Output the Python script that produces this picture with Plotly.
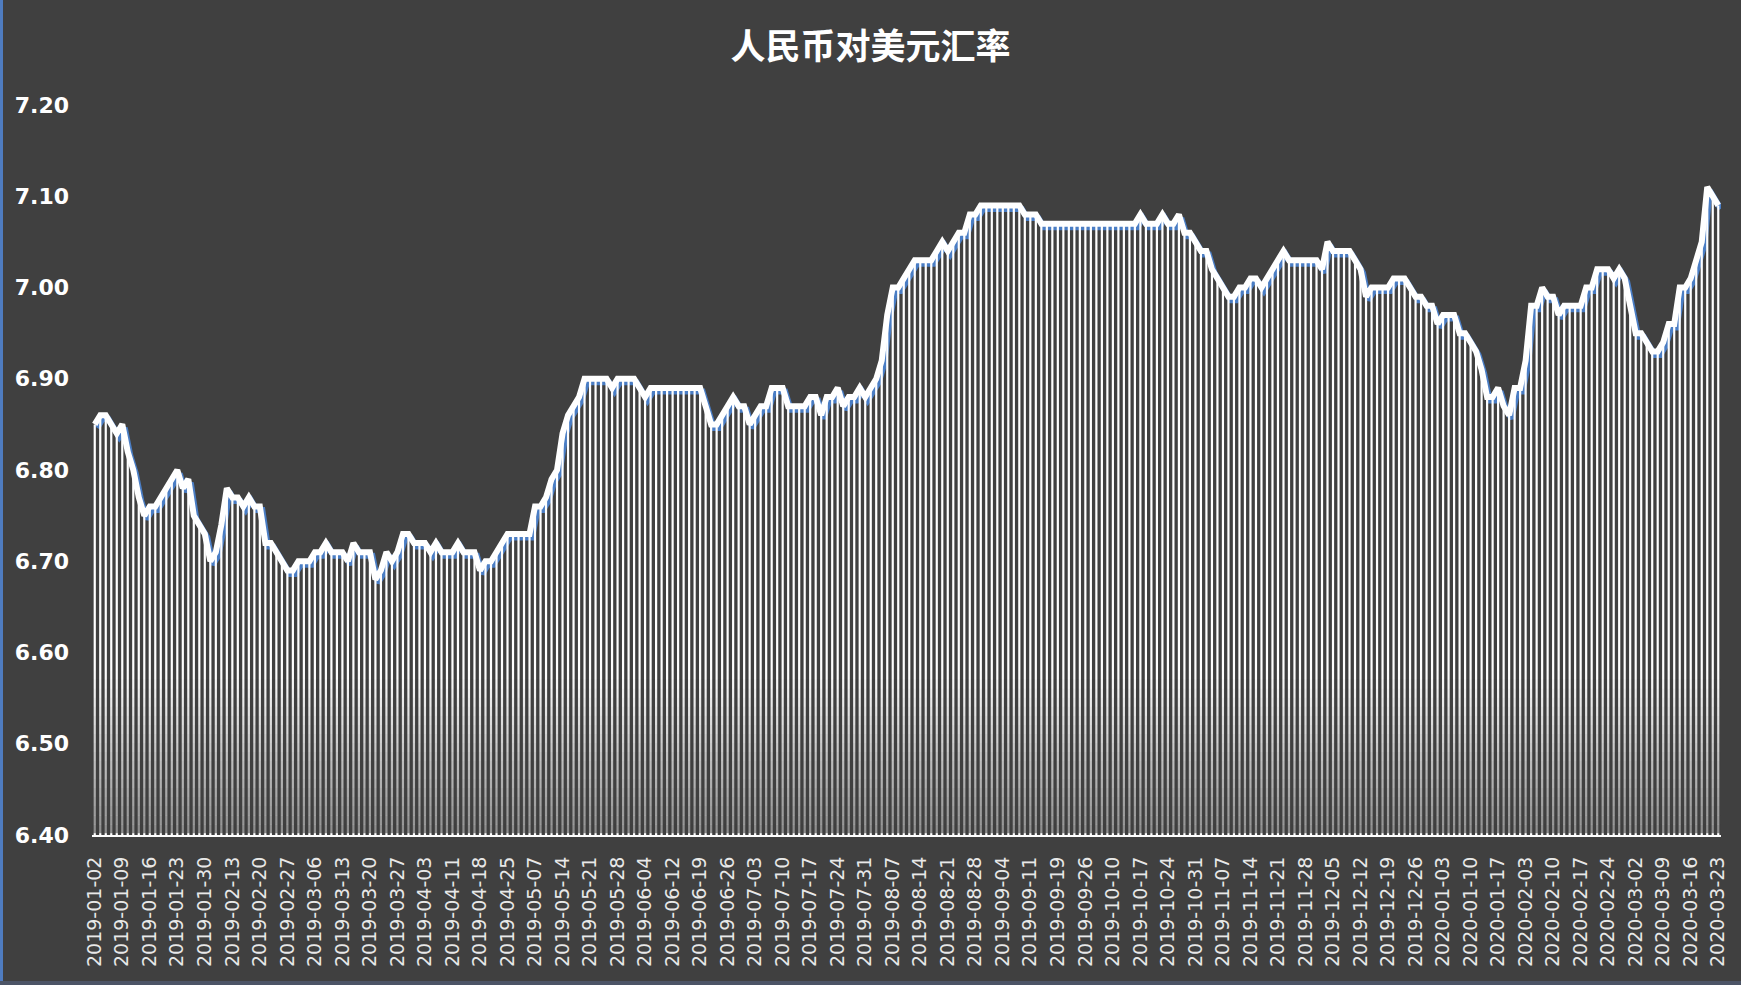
import pandas as pd
import plotly.graph_objects as go

# ---- trading-day calendar (China interbank market, weekday closures) ----
holidays = [
    "2019-01-01", "2019-02-04", "2019-02-05", "2019-02-06", "2019-02-07", "2019-02-08",
    "2019-04-05", "2019-05-01", "2019-05-02", "2019-05-03", "2019-06-07", "2019-09-13",
    "2019-10-01", "2019-10-02", "2019-10-03", "2019-10-04", "2019-10-07",
    "2020-01-01", "2020-01-24", "2020-01-27", "2020-01-28", "2020-01-29", "2020-01-30", "2020-01-31",
]
_days = pd.bdate_range("2019-01-02", "2020-03-23")
dates = [d.strftime("%Y-%m-%d") for d in _days if d.strftime("%Y-%m-%d") not in holidays]

# ---- USD/CNY values ----
rate_2019_jan_feb = [6.85, 6.86, 6.86, 6.85, 6.84, 6.85, 6.82, 6.80, 6.77, 6.75,
                     6.76, 6.76, 6.77, 6.78, 6.79, 6.80, 6.78, 6.79, 6.75, 6.74,
                     6.73, 6.70, 6.71, 6.74, 6.78, 6.77, 6.77, 6.76, 6.77, 6.76,
                     6.76, 6.72, 6.72, 6.71, 6.70, 6.69, 6.69, 6.70, 6.70, 6.70]
rate_2019_mar_apr = [6.71, 6.71, 6.72, 6.71, 6.71, 6.71, 6.70, 6.72, 6.71, 6.71,
                     6.71, 6.68, 6.69, 6.71, 6.70, 6.71, 6.73, 6.73, 6.72, 6.72,
                     6.72, 6.71, 6.72, 6.71, 6.71, 6.71, 6.72, 6.71, 6.71, 6.71,
                     6.69, 6.70, 6.70, 6.71, 6.72, 6.73, 6.73, 6.73, 6.73, 6.73]
rate_2019_may_jun = [6.76, 6.76, 6.77, 6.79, 6.80, 6.84, 6.86, 6.87, 6.88, 6.90,
                     6.90, 6.90, 6.90, 6.90, 6.89, 6.90, 6.90, 6.90, 6.90, 6.89,
                     6.88, 6.89, 6.89, 6.89, 6.89, 6.89, 6.89, 6.89, 6.89, 6.89,
                     6.89, 6.87, 6.85, 6.85, 6.86, 6.87, 6.88, 6.87, 6.87, 6.85]
rate_2019_jul_aug = [6.86, 6.87, 6.87, 6.89, 6.89, 6.89, 6.87, 6.87, 6.87, 6.87,
                     6.88, 6.88, 6.86, 6.88, 6.88, 6.89, 6.87, 6.88, 6.88, 6.89,
                     6.88, 6.89, 6.90, 6.92, 6.97, 7.00, 7.00, 7.01, 7.02, 7.03,
                     7.03, 7.03, 7.03, 7.04, 7.05, 7.04, 7.05, 7.06, 7.06, 7.08]
rate_2019_sep_oct = [7.08, 7.09, 7.09, 7.09, 7.09, 7.09, 7.09, 7.09, 7.09, 7.08,
                     7.08, 7.08, 7.07, 7.07, 7.07, 7.07, 7.07, 7.07, 7.07, 7.07,
                     7.07, 7.07, 7.07, 7.07, 7.07, 7.07, 7.07, 7.07, 7.07, 7.07,
                     7.08, 7.07, 7.07, 7.07, 7.08, 7.07, 7.07, 7.08, 7.06, 7.06]
rate_2019_nov_dec = [7.05, 7.04, 7.04, 7.02, 7.01, 7.00, 6.99, 6.99, 7.00, 7.00,
                     7.01, 7.01, 7.00, 7.01, 7.02, 7.03, 7.04, 7.03, 7.03, 7.03,
                     7.03, 7.03, 7.03, 7.02, 7.05, 7.04, 7.04, 7.04, 7.04, 7.03,
                     7.02, 6.99, 7.00, 7.00, 7.00, 7.00, 7.01, 7.01, 7.01, 7.00]
rate_2020_jan_feb = [6.99, 6.99, 6.98, 6.98, 6.96, 6.97, 6.97, 6.97, 6.95, 6.95,
                     6.94, 6.93, 6.91, 6.88, 6.88, 6.89, 6.87, 6.86, 6.89, 6.89,
                     6.92, 6.98, 6.98, 7.00, 6.99, 6.99, 6.97, 6.98, 6.98, 6.98,
                     6.98, 7.00, 7.00, 7.02, 7.02, 7.02, 7.01, 7.02, 7.01, 6.98]
rate_2020_mar = [6.95, 6.95, 6.94, 6.93, 6.93, 6.94, 6.96, 6.96, 7.00, 7.00,
                 7.01, 7.03, 7.05, 7.11, 7.10, 7.09]

rate = (rate_2019_jan_feb + rate_2019_mar_apr + rate_2019_may_jun + rate_2019_jul_aug
        + rate_2019_sep_oct + rate_2019_nov_dec + rate_2020_jan_feb + rate_2020_mar)
n = min(len(dates), len(rate))
dates = dates[:n]
rate = rate[:n]

tick_dates = dates[::5]
y_ticks = [6.40, 6.50, 6.60, 6.70, 6.80, 6.90, 7.00, 7.10, 7.20]
y_ticktext = [f"{v:.2f}" for v in y_ticks]

# ---- style ----
BG = "#404040"
W, H = 1741, 985
ML, MR, MT, MB = 92, 20, 105, 150
plot_w = W - ML - MR
plot_h = H - MT - MB
y_lo, y_hi = 6.40, 7.20
shadow_dx_px, shadow_dy_px = 2.5, 3.5
dx = shadow_dx_px / (plot_w / n)
dy = shadow_dy_px * (y_hi - y_lo) / plot_h
LINE_W = 6

fig = go.Figure()

# blue shadow line (base subplot, shifted axis ranges)
fig.add_trace(go.Scatter(
    x=dates, y=rate, mode="lines", xaxis="x", yaxis="y",
    line=dict(color="#4a7dc4", width=LINE_W), hoverinfo="skip", showlegend=False))

# bars + white line (overlay subplot with visible axes)
fig.add_trace(go.Bar(
    x=dates, y=rate, xaxis="x2", yaxis="y2",
    marker=dict(color="#ffffff", line=dict(width=0)), showlegend=False))
fig.add_trace(go.Scatter(
    x=dates, y=rate, mode="lines", xaxis="x2", yaxis="y2",
    line=dict(color="#ffffff", width=LINE_W), showlegend=False))

# fade of the bars toward the axis
shapes = []
n_bands = 18
band_top = 6.58
for k in range(n_bands):
    y0 = 6.402 + (band_top - 6.402) * k / n_bands
    y1 = 6.402 + (band_top - 6.402) * (k + 1) / n_bands
    op = 0.6 * (1 - (k + 0.5) / n_bands)
    shapes.append(dict(type="rect", xref="paper", yref="y2", x0=0, x1=1, y0=y0, y1=y1,
                       fillcolor=BG, opacity=op, line=dict(width=0), layer="above"))

# thin chart-frame edges (left blue, bottom grey-blue)
fx0 = -ML / plot_w
fy0 = -MB / plot_h
fy1 = 1 + MT / plot_h
fx1 = 1 + MR / plot_w
shapes.append(dict(type="line", xref="paper", yref="paper",
                   x0=fx0 + 1.5 / plot_w, x1=fx0 + 1.5 / plot_w, y0=fy0, y1=fy1,
                   line=dict(color="#4f7cc0", width=3)))
shapes.append(dict(type="line", xref="paper", yref="paper",
                   x0=fx0, x1=fx1, y0=fy0 + 2 / plot_h, y1=fy0 + 2 / plot_h,
                   line=dict(color="#4c5466", width=4)))

fig.update_layout(
    width=W, height=H,
    paper_bgcolor=BG, plot_bgcolor=BG,
    margin=dict(l=ML, r=MR, t=MT, b=MB),
    bargap=0.6,
    showlegend=False,
    shapes=shapes,
    title=dict(text="<b>人民币对美元汇率</b>", x=0.5, xref="container", xanchor="center",
               y=1 - 47 / H, yref="container", yanchor="middle",
               font=dict(family="Noto Sans CJK SC", size=35, color="#ffffff")),
    xaxis=dict(type="category", range=[-0.5 - dx, n - 0.5 - dx], visible=False,
               showgrid=False, zeroline=False),
    yaxis=dict(range=[y_lo + dy, y_hi + dy], visible=False, showgrid=False, zeroline=False),
    xaxis2=dict(type="category", overlaying="x", range=[-0.5, n - 0.5],
                tickmode="array", tickvals=tick_dates, ticktext=tick_dates,
                tickangle=-90, ticks="", showgrid=False, zeroline=False,
                showline=True, linecolor="#ffffff", linewidth=2,
                ticklabelstandoff=12,
                tickfont=dict(family="DejaVu Sans", size=19, color="#e8e8e8")),
    yaxis2=dict(overlaying="y", range=[y_lo, y_hi], side="left",
                tickmode="array", tickvals=y_ticks, ticktext=y_ticktext,
                ticks="", showgrid=False, zeroline=False, showline=False,
                ticklabelstandoff=22,
                tickfont=dict(family="DejaVu Sans", size=22, color="#ffffff", weight="bold")),
)

fig.write_html("out.html", config={"displayModeBar": False},
               post_script="document.body.style.margin='0';document.body.style.overflow='hidden';")
